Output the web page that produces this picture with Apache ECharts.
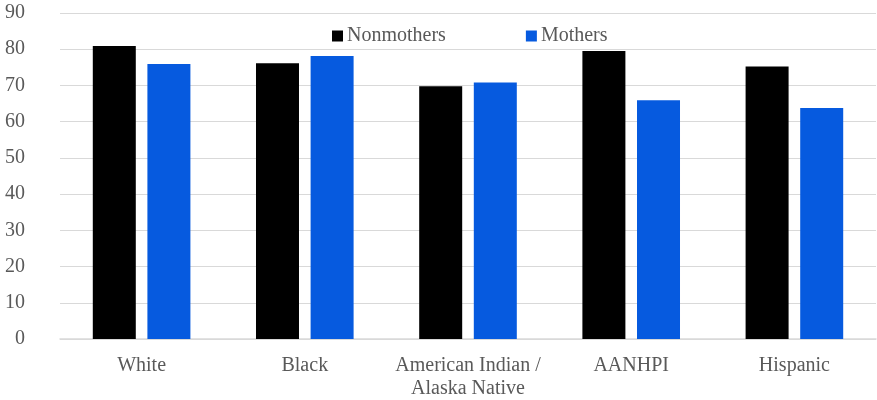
<!DOCTYPE html>
<html>
<head>
<meta charset="utf-8">
<script src="https://cdn.jsdelivr.net/npm/echarts@6/dist/echarts.min.js"></script>
<style>
  html, body { margin: 0; padding: 0; background: #ffffff; }
  #chart { width: 877px; height: 400px; }
</style>
</head>
<body>
<div id="chart"></div>
<script>
// Group labels along the x axis
const categories = ['White', 'Black', 'American Indian /\nAlaska Native', 'AANHPI', 'Hispanic'];
// Series values (percent)
const nonmothers = [80.9, 76.1, 69.8, 79.5, 75.2];
const mothers = [75.9, 78.1, 70.8, 65.9, 63.8];
// Y axis range
const yMin = 0, yMax = 90, yStep = 10;

const textColor = '#595959';
const fontFamily = 'Liberation Serif';

const chart = echarts.init(document.getElementById('chart'));
chart.setOption({
  animation: false,
  backgroundColor: '#ffffff',
  textStyle: { fontFamily: fontFamily },
  grid: { left: 60, right: 1, top: 13, bottom: 61 },
  legend: {
    left: 332,
    top: 26,
    padding: 0,
    itemWidth: 11,
    itemHeight: 11,
    itemGap: 80,
    icon: 'rect',
    textStyle: { color: textColor, fontSize: 20, fontFamily: fontFamily, padding: [0, 0, 0, -1] },
    data: ['Nonmothers', 'Mothers']
  },
  xAxis: {
    type: 'category',
    data: categories,
    axisLine: { show: true, lineStyle: { color: '#d9d9d9', width: 1.5 } },
    axisTick: { show: false },
    axisLabel: { interval: 0, color: textColor, fontSize: 20, fontFamily: fontFamily, margin: 15, lineHeight: 23 }
  },
  yAxis: {
    type: 'value',
    min: yMin,
    max: yMax,
    interval: yStep,
    axisLine: { show: false },
    axisTick: { show: false },
    axisLabel: { color: textColor, fontSize: 20, fontFamily: fontFamily, margin: 35 },
    splitLine: { lineStyle: { color: '#d9d9d9', width: 1 } }
  },
  series: [
    {
      name: 'Nonmothers',
      type: 'bar',
      data: nonmothers,
      barWidth: 43,
      barGap: '27%',
      itemStyle: { color: '#000000' }
    },
    {
      name: 'Mothers',
      type: 'bar',
      data: mothers,
      barWidth: 43,
      itemStyle: { color: '#065ADF' }
    }
  ]
});
</script>
</body>
</html>
